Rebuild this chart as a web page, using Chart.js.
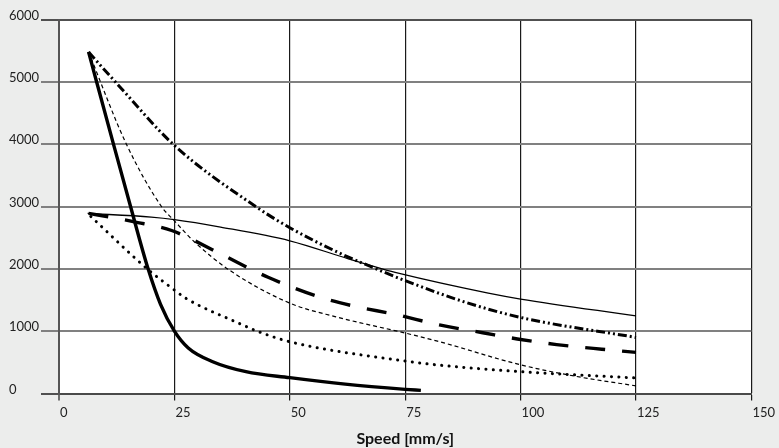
<!DOCTYPE html>
<html>
<head>
<meta charset="utf-8">
<script src="https://cdn.jsdelivr.net/npm/chart.js@4"></script>
<style>
  html, body { margin: 0; padding: 0; background: #ecedec; }
  canvas { display: block; }
</style>
</head>
<body>
<canvas id="speedChart" width="779" height="448"></canvas>
<script>
// axis ticks
const xTicks = [0, 25, 50, 75, 100, 125, 150];
const yTicks = [0, 1000, 2000, 3000, 4000, 5000, 6000];

// thick solid
const thickX = [6.4, 11.8, 15.5, 19.3, 22, 25, 28, 33.3, 40.5, 50, 62, 75, 78.4];
const thickY = [5480, 4000, 3000, 2000, 1430, 1000, 730, 510, 350, 254, 150, 67, 50];

// thin fine dashes
const fineX = [6.4, 14.6, 22.2, 25, 29.3, 36.9, 50, 60, 75, 82, 100, 112, 125];
const fineY = [5480, 4000, 3000, 2770, 2435, 1980, 1450, 1230, 970, 840, 460, 275, 122];

// dash-dot-dot
const dotDashX = [6.4, 12.2, 25, 42.6, 50, 60, 70, 75, 87.8, 100, 125];
const dotDashY = [5480, 5000, 3980, 3000, 2660, 2280, 1960, 1810, 1470, 1220, 900];

// thin solid
const thinX = [6.2, 20, 25, 35, 50, 62.7, 70, 73.5, 93, 100, 125];
const thinY = [2890, 2830, 2790, 2670, 2450, 2160, 2000, 1930, 1610, 1515, 1245];

// long dashes
const longX = [6.4, 12.5, 16.1, 24.4, 34.7, 45.3, 56.8, 64.3, 72.8, 82.4, 91.8, 99.3, 107.8, 117.6, 125];
const longY = [2890, 2810, 2757, 2615, 2250, 1865, 1540, 1395, 1270, 1100, 975, 875, 785, 710, 660];

// dotted
const dotX = [6.9, 19.1, 25, 27.5, 39, 42.6, 50, 75, 82, 100, 125];
const dotY = [2840, 2000, 1660, 1527, 1126, 1010, 830, 521, 458, 350, 250];

const toPoints = (xs, ys) => xs.map((x, i) => ({ x, y: ys[i] }));

const plotBg = {
  id: 'plotBg',
  beforeDraw(chart) {
    const { ctx, chartArea: a } = chart;
    ctx.save();
    ctx.fillStyle = '#ffffff';
    ctx.fillRect(a.left, a.top, a.right - a.left, a.bottom - a.top);
    ctx.restore();
  }
};

function line(data, width, dash, cap) {
  return {
    data,
    borderColor: '#000000',
    borderWidth: width,
    borderDash: dash,
    borderCapStyle: cap || 'butt',
    pointRadius: 0,
    fill: false,
    cubicInterpolationMode: 'monotone'
  };
}

const ctx = document.getElementById('speedChart').getContext('2d');
const chart = new Chart(ctx, {
  type: 'line',
  data: {
    datasets: [
      line(toPoints(thickX, thickY), 3.4, []),
      line(toPoints(fineX, fineY), 1.2, [4, 3]),
      line(toPoints(dotDashX, dotDashY), 3, [9, 3, 2, 3, 2, 3]),
      line(toPoints(thinX, thinY), 1.3, []),
      line(toPoints(longX, longY), 3.4, [20, 17]),
      line(toPoints(dotX, dotY), 3, [0.1, 7.3], 'round')
    ]
  },
  options: {
    responsive: false,
    animation: false,
    devicePixelRatio: 1,
    layout: { padding: { left: 9, top: 19.5, right: 23.5, bottom: 0 } },
    plugins: {
      legend: { display: false },
      tooltip: { enabled: false }
    },
    scales: {
      x: {
        type: 'linear',
        min: 0,
        max: 150,
        afterBuildTicks: scale => { scale.ticks = xTicks.map(v => ({ value: v })); },
        afterFit: scale => { scale.height = 54.5; },
        grid: {
          color: c => (c.index === 0 ? '#555555' : '#1a1a1a'),
          lineWidth: c => (c.index === 0 ? 2 : 1.2),
          tickLength: 7,
          tickColor: '#1a1a1a',
          tickWidth: 1.2
        },
        border: { display: true, color: '#4a4a4a', width: 2 },
        ticks: {
          align: 'start',
          padding: 5,
          labelOffset: 1,
          color: '#222222',
          font: { family: 'Lato', size: 13 },
          callback: v => String(v)
        },
        title: {
          display: true,
          text: 'Speed [mm/s]',
          color: '#111111',
          font: { family: 'Lato', size: 16, weight: 'bold' },
          padding: { top: 2, bottom: 0 }
        }
      },
      y: {
        type: 'linear',
        min: 0,
        max: 6000,
        afterBuildTicks: scale => { scale.ticks = yTicks.map(v => ({ value: v })); },
        afterFit: scale => { scale.width = 50; },
        grid: {
          color: c => (c.index === 0 || c.index === yTicks.length - 1 ? '#505050' : '#808080'),
          lineWidth: 2,
          tickLength: 18,
          tickColor: c => (c.index === 0 || c.index === yTicks.length - 1 ? '#505050' : '#808080'),
          tickWidth: 2
        },
        border: { display: true, color: '#555555', width: 2 },
        ticks: {
          crossAlign: 'far',
          labelOffset: -4,
          color: '#222222',
          font: { family: 'Lato', size: 13 },
          callback: v => String(v)
        }
      }
    }
  },
  plugins: [plotBg]
});
</script>
</body>
</html>
